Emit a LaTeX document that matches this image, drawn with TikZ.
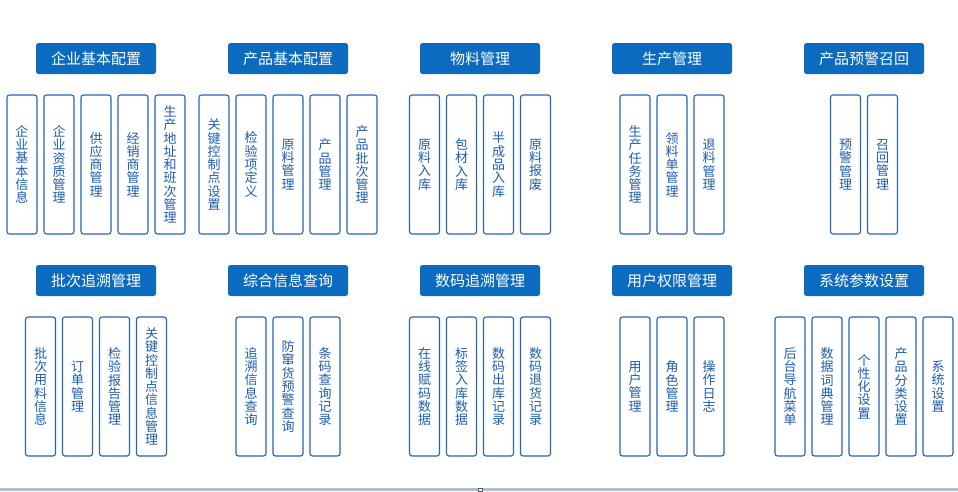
\documentclass[tikz,border=0pt]{standalone}
\usepackage{fontspec}
\setmainfont{Noto Sans CJK SC}
% break a run of Chinese characters between any two of them
\XeTeXlinebreaklocale "zh"
\XeTeXlinebreakskip=0pt plus 1pt
\setlength\parindent{0pt}
\usetikzlibrary{positioning}
\definecolor{headblue}{HTML}{0B6BBE}
\definecolor{leafline}{HTML}{2466B3}
\definecolor{leaftext}{HTML}{1C5EAA}
\definecolor{barblue}{HTML}{B1BDCE}
\tikzset{
  head/.style={fill=headblue, rounded corners=2.5pt, text=white,
    minimum width=120pt, minimum height=31pt, inner sep=0pt,
    font=\fontsize{15}{18}\selectfont},
  leaf/.style={draw=leafline, line width=1.1pt, rounded corners=2.5pt,
    fill=white, text=leaftext, minimum width=30pt, minimum height=139pt,
    inner sep=0pt, text width=14pt, align=center,
    font=\fontsize{13}{13.3}\selectfont}
}

\begin{document}
\begin{tikzpicture}[x=1pt, y=-1pt]
  \useasboundingbox (0,0) rectangle (958,491);
  \foreach \cx/\cy/\n/\ttl/\items [count=\g] in {
      96/58.5/5/企业基本配置/{企业基本信息,企业资质管理,供应商管理,经销商管理,生产地址和班次管理},
      288/58.5/5/产品基本配置/{关键控制点设置,检验项定义,原料管理,产品管理,产品批次管理},
      480/58.5/4/物料管理/{原料入库,包材入库,半成品入库,原料报废},
      672/58.5/3/生产管理/{生产任务管理,领料单管理,退料管理},
      864/58.5/2/产品预警召回/{预警管理,召回管理},
      96/280.5/4/批次追溯管理/{批次用料信息,订单管理,检验报告管理,关键控制点信息管理},
      288/280.5/3/综合信息查询/{追溯信息查询,防窜货预警查询,条码查询记录},
      480/280.5/4/数码追溯管理/{在线赋码数据,标签入库数据,数码出库记录,数码退货记录},
      672/280.5/3/用户权限管理/{用户管理,角色管理,操作日志},
      864/280.5/5/系统参数设置/{后台导航菜单,数据词典管理,个性化设置,产品分类设置,系统设置}}
  {
    \node[head] (h\g) at (\cx,\cy) {\ttl};
    \foreach \t [count=\i] in \items
      \node[leaf] (h\g-\i) at ({\cx+(\i-(\n+1)/2)*37}, \cy+106) {\t};
  }
  % strip along the lower edge
  \fill[barblue] (0,488) rectangle (958,491);
  \draw[gray!70!black, fill=white, line width=0.5pt] (478.5,488.5) rectangle (482.5,491);
\end{tikzpicture}
\end{document}
